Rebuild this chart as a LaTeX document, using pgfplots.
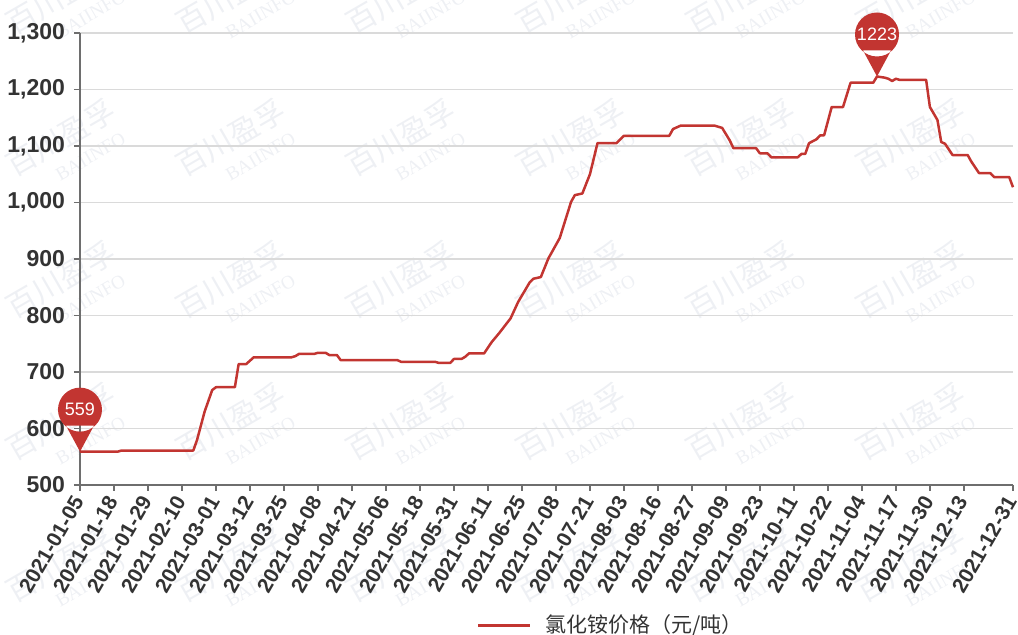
\documentclass[border=0pt]{standalone}
\usepackage{pgfplots}
\pgfplotsset{compat=1.18}
\usepackage{fontspec}
\setmainfont{Liberation Sans}
\newfontfamily\cjk{Noto Sans CJK SC}
\newfontfamily\wmserif{Liberation Serif}
\definecolor{ecred}{HTML}{C23531}
\definecolor{axgray}{HTML}{6E6E6E}
\definecolor{gridgray}{HTML}{DADADA}
\definecolor{txtgray}{HTML}{333333}
\definecolor{wmgray}{HTML}{EEF0F4}
\pgfdeclareplotmark{pin}{%
  \pgfpathcircle{\pgfpoint{0pt}{21pt}}{11pt}%
  \pgfpathmoveto{\pgfpoint{0pt}{0pt}}%
  \pgfpathlineto{\pgfpoint{-7pt}{13pt}}%
  \pgfpathlineto{\pgfpoint{7pt}{13pt}}%
  \pgfpathclose
  \pgfusepathqfill
}
\begin{document}
\begin{tikzpicture}
% faint watermark (drawn behind the chart)
\foreach \X in {67,237,407,577,747,917} {
  \foreach \Y in {6,148,290,432,574} {
    \node[rotate=30, text=wmgray, align=center, inner sep=0pt, font=\cjk\fontsize{15}{16}\selectfont]
      at ({(\X-80)*0.5pt},{(485-\Y)*0.5pt}) {百川盈孚\\[-3pt]{\wmserif\fontsize{9.5}{10}\selectfont\hspace*{16pt}BAIINFO}};
  }
}
\begin{axis}[
  name=ax,
  scale only axis,
  width=466.5pt, height=226pt,
  xmin=0, xmax=247,
  ymin=500, ymax=1300,
  ytick={500,600,...,1300},
  xtick={0,9,18,27,36,45,54,63,72,81,90,99,108,117,126,135,144,153,162,171,180,189,198,207,216,225,234,247},
  xticklabels={2021-01-05,2021-01-18,2021-01-29,2021-02-10,2021-03-01,2021-03-12,2021-03-25,2021-04-08,2021-04-21,2021-05-06,2021-05-18,2021-05-31,2021-06-11,2021-06-25,2021-07-08,2021-07-21,2021-08-03,2021-08-16,2021-08-27,2021-09-09,2021-09-23,2021-10-11,2021-10-22,2021-11-04,2021-11-17,2021-11-30,2021-12-13,2021-12-31},
  axis lines*=left,
  axis line style={axgray, line width=1pt},
  tick style={axgray, line width=0.8pt},
  tick align=outside,
  major tick length=3pt,
  ymajorgrids,
  grid style={gridgray, line width=0.7pt},
  /pgf/number format/assume math mode=true,
  /pgf/number format/1000 sep={,},
  yticklabel style={font=\fontsize{11.5}{12}\selectfont\bfseries, text=txtgray, xshift=-1pt},
  xticklabel style={font=\fontsize{10.5}{11}\selectfont\bfseries, text=txtgray, rotate=60, anchor=east, xshift=0pt, yshift=-1pt},
  legend style={draw=none, fill=none, at={(0.57,-0.31)}, anchor=center, font=\cjk\fontsize{10.5}{11}\selectfont, text=txtgray, inner sep=0pt},
  legend image code/.code={\draw[line width=1.5pt] (0pt,0pt) -- (26pt,0pt); \path (31pt,0pt);},
  legend cell align=left,
  clip=false,
]
\addplot[ecred, line width=1.25pt, line join=round] coordinates {
(0,559) (10,559) (11,561) (30,561) (31,580) (33,630) (35,668) (36,673) (41,673)
(42,714) (44,714) (46,726) (56,726) (57,728) (58,732) (62,732) (63,734) (65,734)
(66,730) (68,730) (69,721) (84,721) (85,718) (94,718) (95,716) (98,716) (99,723)
(101,723) (102,727) (103,733) (107,733) (109,753) (111,769) (114,795) (116,824)
(119,858) (120,865) (122,868) (124,901) (127,937) (130,1001) (131,1013) (133,1016)
(135,1050) (137,1105) (142,1105) (144,1118) (156,1118) (157,1130) (159,1136)
(168,1136) (170,1132) (172,1110) (173,1096) (179,1096) (180,1087) (182,1087)
(183,1080) (190,1080) (191,1086) (192,1086) (193,1105) (195,1112) (196,1119)
(197,1119) (199,1169) (202,1169) (204,1212) (210,1212) (211,1223) (213,1221)
(214,1219) (215,1215) (216,1219) (217,1217) (224,1217) (225,1169) (227,1146)
(228,1107) (229,1104) (231,1084) (235,1084) (236,1072) (238,1052) (241,1052)
(242,1045) (246,1045) (247,1027)
};
\addlegendentry{氯化铵价格（元/吨）}
\addplot[ecred, mark=pin, only marks, forget plot,
  nodes near coords, point meta=explicit symbolic,
  every node near coord/.append style={anchor=center, yshift=21pt, text=white, font=\fontsize{9}{10}\selectfont, inner sep=0pt}]
  coordinates {(0,559) [559] (211,1223) [1223]};
\end{axis}
\pgfresetboundingbox
\path (ax.south west) ++(-40pt,-75pt) coordinate (bl);
\path (ax.north east) ++(2.5pt,16.5pt) coordinate (tr);
\useasboundingbox (bl) rectangle (tr);
\end{tikzpicture}
\end{document}
